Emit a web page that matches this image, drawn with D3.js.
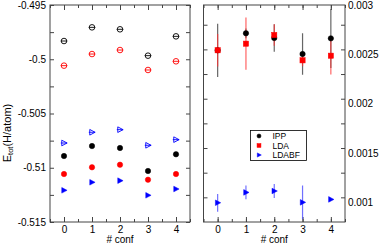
<!DOCTYPE html>
<html>
<head>
<meta charset="utf-8">
<script src="https://cdn.jsdelivr.net/npm/d3@7"></script>
<style>
  body { margin: 0; background: #fff; }
  text { font-family: "Liberation Sans", Arial, sans-serif; }
</style>
</head>
<body>
<div id="chart"></div>
<script>
// configurations on the x axis
var confs = [0, 1, 2, 3, 4];
var xTicks = [0, 1, 2, 3, 4];

// left panel: total energies (H/atom)
var ippOpen     = [-0.49832, -0.49706, -0.49724, -0.49967, -0.49789];
var ldaOpen     = [-0.50059, -0.49952, -0.49915, -0.50099, -0.50019];
var ldabfOpen   = [-0.50772, -0.50673, -0.50649, -0.50793, -0.50741];
var ippFilled   = [-0.50892, -0.50800, -0.50818, -0.51030, -0.50876];
var ldaFilled   = [-0.51058, -0.50996, -0.50972, -0.51110, -0.51058];
var ldabfFilled = [-0.51208, -0.51134, -0.51119, -0.51254, -0.51196];
var leftTicks = [-0.515, -0.51, -0.505, -0.5, -0.495];
var leftTickLabels = ["-0.515", "-0.51", "-0.505", "-0.5", "-0.495"];

// right panel: differences with error bars
var ippDiff   = [0.002541, 0.002713, 0.002665, 0.002503, 0.002662];
var ippErr    = [0.00027, 0.00005, 0.00014, 0.00021, 0.00030];
var ldaDiff   = [0.002541, 0.002608, 0.002696, 0.002439, 0.002486];
var ldaErr    = [0.000165, 0.000265, 0.00011, 0.00006, 0.00019];
var ldabfDiff = [0.000995, 0.00110, 0.001114, 0.000999, 0.001029];
var ldabfErr  = [0.00009, 0.00007, 0.00007, 0.00017, 0];
var rightTicks = [0.001, 0.0015, 0.002, 0.0025, 0.003];
var rightTickLabels = ["0.001", "0.0015", "0.002", "0.0025", "0.003"];

var legendNames = ["IPP", "LDA", "LDABF"];
var colors = ["#000000", "#ff0000", "#0000ff"];

var width = 382, height = 246;
var plotTop = 5, plotBottom = 222;

var svg = d3.select("#chart")
  .append("svg")
    .attr("width", width)
    .attr("height", height);

var xL = d3.scaleLinear().domain([-0.5, 4.5]).range([50, 190]);
var xR = d3.scaleLinear().domain([-0.5, 4.5]).range([203.5, 345]);
var yL = d3.scaleLinear().domain([-0.515, -0.495]).range([plotBottom, plotTop]);
var yR = d3.scaleLinear().domain([0.0008, 0.003]).range([plotBottom, plotTop]);

var axisColor = "#444";

function styleLabels(a) {
  a.select(".domain").remove();
  a.selectAll("text").attr("font-size", 10).attr("fill", "#000")
    .attr("font-family", "Liberation Sans, Arial, sans-serif");
}

// draw a framed panel with inward ticks on every side
function frame(x, y, yMinor) {
  var g = svg.append("g");
  var x0 = x.range()[0], x1 = x.range()[1];
  var xMinor = d3.range(-0.5, 4.51, 0.5);

  function tickLines(axis) {
    axis.selectAll(".domain").remove();
    axis.selectAll("line").attr("stroke", axisColor);
    axis.selectAll("text").remove();
  }

  g.append("g").attr("transform", "translate(0," + plotBottom + ")")
    .call(d3.axisBottom(x).tickValues(xMinor).tickSize(-3)).call(tickLines);
  g.append("g").attr("transform", "translate(0," + plotBottom + ")")
    .call(d3.axisBottom(x).tickValues(xTicks).tickSize(-5)).call(tickLines);
  g.append("g").attr("transform", "translate(0," + plotTop + ")")
    .call(d3.axisTop(x).tickValues(xMinor).tickSize(-3)).call(tickLines);
  g.append("g").attr("transform", "translate(0," + plotTop + ")")
    .call(d3.axisTop(x).tickValues(xTicks).tickSize(-5)).call(tickLines);

  g.append("g").attr("transform", "translate(" + x0 + ",0)")
    .call(d3.axisLeft(y).tickValues(yMinor).tickSize(-4)).call(tickLines);
  g.append("g").attr("transform", "translate(" + x1 + ",0)")
    .call(d3.axisRight(y).tickValues(yMinor).tickSize(-4)).call(tickLines);

  g.append("rect")
    .attr("x", x0).attr("y", plotTop)
    .attr("width", x1 - x0).attr("height", plotBottom - plotTop)
    .attr("fill", "none")
    .attr("stroke", axisColor)
    .attr("stroke-width", 1);

  // x tick labels
  g.append("g").attr("transform", "translate(0," + plotBottom + ")")
    .call(d3.axisBottom(x).tickValues(xTicks).tickSize(0).tickPadding(4)
      .tickFormat(d3.format("d")))
    .call(styleLabels);

  g.append("text")
    .attr("x", (x0 + x1) / 2)
    .attr("y", 243)
    .attr("text-anchor", "middle")
    .attr("font-size", 10)
    .text("# conf");
  return g;
}

frame(xL, yL, d3.range(-0.515, -0.4949, 0.0025));
frame(xR, yR, d3.range(0.0008, 0.00301, 0.00025).filter(function(v) { return v > 0.00081; }));

// left y tick labels
svg.append("g").attr("transform", "translate(50,0)")
  .call(d3.axisLeft(yL).tickValues(leftTicks).tickSize(0).tickPadding(4)
    .tickFormat(function(d, i) { return leftTickLabels[i]; }))
  .call(styleLabels);

// right y tick labels
svg.append("g").attr("transform", "translate(345,0)")
  .call(d3.axisRight(yR).tickValues(rightTicks).tickSize(0).tickPadding(3)
    .tickFormat(function(d, i) { return rightTickLabels[i]; }))
  .call(styleLabels);

// y axis title
var ylab = svg.append("text")
  .attr("transform", "translate(11,133) rotate(-90)")
  .attr("text-anchor", "middle")
  .attr("font-size", 11);
ylab.append("tspan").text("E");
ylab.append("tspan").attr("font-size", 7.5).attr("dy", 2).text("tot");
ylab.append("tspan").attr("dy", -2).text("(H/atom)");

// marker helpers
function triangle(px, py, s) {
  return "M" + (px - s * 0.8) + "," + (py - s) + "L" + (px + s * 1.1) + "," + py +
         "L" + (px - s * 0.8) + "," + (py + s) + "Z";
}

function drawMarker(g, shape, px, py, color, filled, scale) {
  var sc = scale || 1;
  if (shape === "circle") {
    g.append("circle").attr("cx", px).attr("cy", py).attr("r", (filled ? 2.7 : 2.8) * sc)
      .attr("fill", filled ? color : "none")
      .attr("stroke", color).attr("stroke-width", filled ? 0.5 : 0.9);
  } else if (shape === "square") {
    g.append("rect").attr("x", px - 2.6 * sc).attr("y", py - 2.6 * sc)
      .attr("width", 5.2 * sc).attr("height", 5.2 * sc)
      .attr("fill", filled ? color : "none")
      .attr("stroke", color).attr("stroke-width", filled ? 0.5 : 0.9);
  } else {
    g.append("path").attr("d", triangle(px, py, 2.8 * sc))
      .attr("fill", filled ? color : "none")
      .attr("stroke", color).attr("stroke-width", filled ? 0.5 : 0.9);
  }
}

var shapes = ["circle", "circle", "triangle"];

// left panel points
var leftG = svg.append("g");
var openSets = [ippOpen, ldaOpen, ldabfOpen];
var filledSets = [ippFilled, ldaFilled, ldabfFilled];

openSets.forEach(function(vals, k) {
  vals.forEach(function(v, i) {
    var px = xL(confs[i]), py = yL(v);
    drawMarker(leftG, shapes[k], px, py, colors[k], false);
    // tiny error bar cap
    leftG.append("line")
      .attr("x1", px - 3.2).attr("x2", px + 3.2)
      .attr("y1", py).attr("y2", py)
      .attr("stroke", colors[k]).attr("stroke-width", 0.9);
  });
});

filledSets.forEach(function(vals, k) {
  vals.forEach(function(v, i) {
    drawMarker(leftG, shapes[k], xL(confs[i]), yL(v), colors[k], true);
  });
});

// right panel with error bars
svg.append("clipPath").attr("id", "clipR")
  .append("rect").attr("x", 203.5).attr("y", plotTop)
  .attr("width", 141.5).attr("height", plotBottom - plotTop);

var rightG = svg.append("g").attr("clip-path", "url(#clipR)");
var diffSets = [ippDiff, ldaDiff, ldabfDiff];
var errSets = [ippErr, ldaErr, ldabfErr];
var rightShapes = ["circle", "square", "triangle"];
var barColors = ["#333", "#ff3030", "#4040ff"];

diffSets.forEach(function(vals, k) {
  vals.forEach(function(v, i) {
    var e = errSets[k][i];
    if (e > 0) {
      rightG.append("line")
        .attr("x1", xR(confs[i])).attr("x2", xR(confs[i]))
        .attr("y1", yR(v - e)).attr("y2", yR(v + e))
        .attr("stroke", barColors[k]).attr("stroke-opacity", 0.75)
        .attr("stroke-width", 1.2);
    }
  });
});

diffSets.forEach(function(vals, k) {
  vals.forEach(function(v, i) {
    drawMarker(rightG, rightShapes[k], xR(confs[i]), yR(v), colors[k], true);
  });
});

// legend
var legend = svg.append("g");
legend.append("rect")
  .attr("x", 250.5).attr("y", 130.5)
  .attr("width", 56).attr("height", 30)
  .attr("fill", "#fff").attr("stroke", "#000").attr("stroke-width", 0.8);

legendNames.forEach(function(name, k) {
  var ly = 136 + k * 9.5;
  drawMarker(legend, rightShapes[k], 259, ly, colors[k], true, 0.75);
  legend.append("text")
    .attr("x", 272.5).attr("y", ly + 3)
    .attr("font-size", 8.5)
    .text(name);
});
</script>
</body>
</html>
